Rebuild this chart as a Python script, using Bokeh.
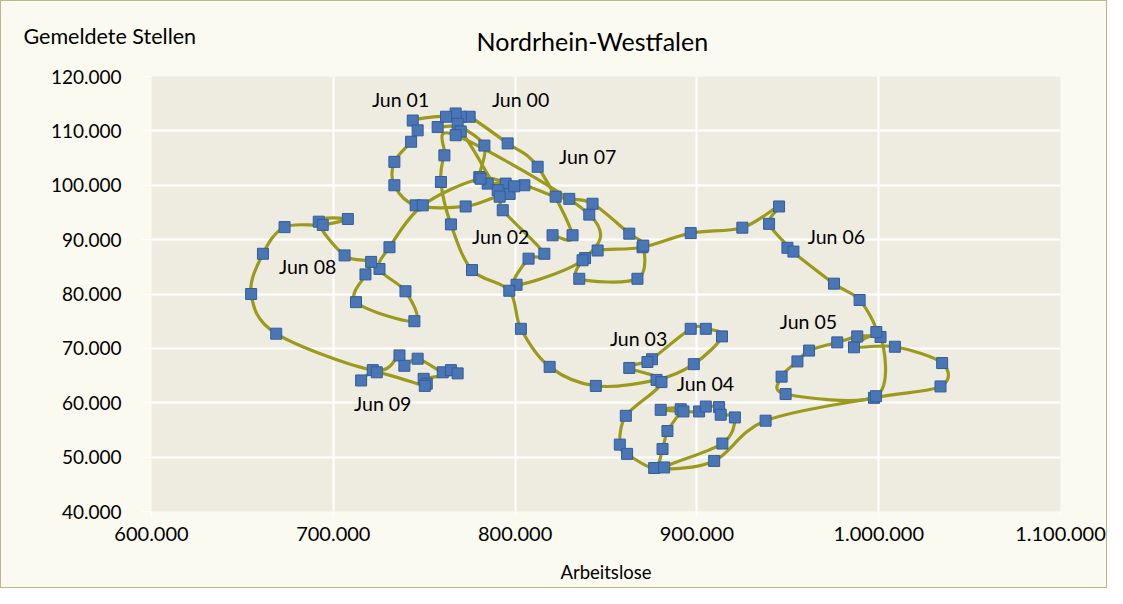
from bokeh.plotting import figure
from bokeh.models import Title, FixedTicker, ColumnDataSource
from bokeh.embed import file_html
from bokeh.resources import INLINE
from bokeh.core.properties import value
import numpy as np

# Arbeitslose (x) and gemeldete Stellen (y), monthly, chronological
arbeitslose = [
    820600, 831600, 812400, 795900, 775000, 770100, 767300, 768400, 783100, 780300, 784900, 794800,
    797000, 790400, 770100, 757400, 762000, 743700, 746400, 742800, 733600, 733600, 745300, 772800,
    791500, 793200, 816100, 807400, 800800, 838500, 840800, 767300, 761100, 759200, 764700, 776300, 796800, 803200, 819000,
    844400, 877800, 898300, 913800, 904900, 896600, 875300, 872800, 862800, 880500, 860900, 857600, 861600,
    876500, 881100, 883800, 891100, 880100, 892600, 901200, 904900, 912200, 913100, 920900, 914000, 882000, 909500, 937800,
    997400, 1034000, 1034900, 1008900, 986400, 1001000, 998500, 948800, 946600, 955300, 961700, 977200, 988200, 998700, 989500, 975400,
    949800, 953100, 939700, 945200, 925000, 896600, 870100, 845400, 837100, 835300, 867300,
    870500, 862800, 842600, 829800, 822300, 805100, 799500, 781000, 749200,
    730900, 725400, 739700, 744600, 712500, 717700, 720800, 706200, 692000, 708000, 694200, 673200, 661300, 654800, 668600,
    721700, 736400, 739100, 746400, 760200, 764700, 768400, 749700, 751400, 750300, 723900, 715300,
]
stellen = [
    90800, 90800, 103400, 107700, 112600, 112600, 113200, 111300, 107300, 101500, 100300, 100300,
    98400, 99100, 109900, 110700, 112600, 111900, 110100, 108000, 104300, 100000, 96300, 96100,
    97900, 95400, 87400, 86500, 81700, 86600, 94600, 109200, 105500, 100600, 92800, 84400, 80600, 73600, 66600,
    63100, 64200, 67100, 72200, 73600, 73600, 68000, 67500, 66400, 63800, 57600, 52300, 50600,
    48000, 51500, 54800, 58800, 58700, 58400, 58400, 59300, 59200, 57800, 57300, 52500, 48100, 49300, 56700,
    60900, 63000, 67300, 70300, 70200, 72100, 61200, 61600, 64800, 67600, 69600, 71100, 72200, 73000, 78900, 81900,
    88500, 87800, 92900, 96100, 92200, 91200, 88600, 88000, 86200, 82800, 82800,
    88900, 91100, 96600, 97500, 97900, 100000, 99800, 101200, 96300,
    88600, 84600, 80500, 75000, 78500, 83600, 85900, 87100, 93300, 93800, 92700, 92300, 87400, 80000, 72700,
    66000, 68700, 66800, 68100, 65600, 66000, 65400, 64400, 63500, 63100, 65600, 64100,
]

label_texts = ["Jun 00", "Jun 01", "Jun 02", "Jun 03", "Jun 04", "Jun 05", "Jun 06", "Jun 07", "Jun 08", "Jun 09"]
label_x = [803000, 737000, 792100, 867900, 904700, 961300, 976700, 839900, 685900, 727200]
label_y = [115800, 115800, 90500, 71900, 63500, 74900, 90500, 105300, 85000, 59800]

x_ticks = [600000, 700000, 800000, 900000, 1000000, 1100000]
x_tick_labels = ["600.000", "700.000", "800.000", "900.000", "1.000.000", "1.100.000"]
y_ticks = [40000, 50000, 60000, 70000, 80000, 90000, 100000, 110000, 120000]
y_tick_labels = ["40.000", "50.000", "60.000", "70.000", "80.000", "90.000", "100.000", "110.000", "120.000"]

FONT = "Lato"
W, H = 1107, 588
FL, FB = 150, 510   # frame left / frame bottom inside the canvas

p = figure(width=W, height=H, x_range=(600000, 1100000), y_range=(40000, 120000),
           output_backend="svg", toolbar_location=None, title=None,
           min_border_left=FL, min_border_right=48, min_border_top=75, min_border_bottom=H - FB)
p.background_fill_color = "#EEECE1"
p.border_fill_color = "#FAFAF1"
p.outline_line_color = None
p.styles = {"border": "1px solid #BDB67E", "box-sizing": "border-box"}

for ax, ticks, labels in ((p.xaxis[0], x_ticks, x_tick_labels), (p.yaxis[0], y_ticks, y_tick_labels)):
    ax.ticker = FixedTicker(ticks=ticks)
    ax.major_label_overrides = {t: l for t, l in zip(ticks, labels)}
    ax.axis_line_color = None
    ax.minor_tick_line_color = None
    ax.major_tick_line_color = "#FFFFFF"
    ax.major_tick_in = 0
    ax.major_label_text_font = FONT
    ax.major_label_text_color = "#000000"

p.xaxis[0].major_label_text_font_size = "20px"
p.yaxis[0].major_label_text_font_size = "19px"
p.xaxis[0].major_tick_out = 5
p.xaxis[0].major_label_standoff = 10
p.yaxis[0].major_tick_out = 9
p.yaxis[0].major_label_standoff = 21
p.xaxis[0].axis_label = "Arbeitslose"
p.xaxis[0].axis_label_text_font = FONT
p.xaxis[0].axis_label_text_font_size = "18.5px"
p.xaxis[0].axis_label_text_font_style = "normal"
p.xaxis[0].axis_label_text_color = "#000000"
p.xaxis[0].axis_label_standoff = 17

p.grid.grid_line_color = "#FFFFFF"
p.grid.grid_line_width = 2
p.xgrid.ticker = FixedTicker(ticks=x_ticks)
p.ygrid.ticker = FixedTicker(ticks=y_ticks)

# smooth (Excel-like) connecting line as cubic Bezier segments
xs = np.array(arbeitslose, dtype=float)
ys = np.array(stellen, dtype=float)
n = len(xs)
ip = np.r_[0, np.arange(n - 1)]          # previous index
inx = np.r_[np.arange(1, n), n - 1]      # next index
x0, y0 = xs[:-1], ys[:-1]
x1, y1 = xs[1:], ys[1:]
cx0 = x0 + (xs[1:] - xs[ip[:-1]]) / 6.0
cy0 = y0 + (ys[1:] - ys[ip[:-1]]) / 6.0
cx1 = x1 - (xs[inx[1:]] - xs[:-1]) / 6.0
cy1 = y1 - (ys[inx[1:]] - ys[:-1]) / 6.0
p.bezier(x0=x0, y0=y0, x1=x1, y1=y1, cx0=cx0, cy0=cy0, cx1=cx1, cy1=cy1,
         line_color="#9C9A1C", line_width=3.2)

p.scatter(xs, ys, marker="square", size=11, fill_color="#4A76B6", line_color="#345C9A", line_width=1)

src = ColumnDataSource(dict(x=label_x, y=label_y, t=label_texts))
p.text(x="x", y="y", text="t", source=src, text_font=value(FONT), text_font_size="19.5px",
       text_align="center", text_baseline="middle", text_color="#000000")

# titles in the panel above the frame (first added sits nearest the frame)
p.add_layout(Title(text="Nordrhein-Westfalen", align="left", offset=475 - FL, standoff=42,
                   text_font=FONT, text_font_size="25px", text_font_style="normal",
                   text_color="#000000"), "above")
p.add_layout(Title(text="Gemeldete Stellen", align="left", offset=22 - FL, standoff=-92,
                   text_font=FONT, text_font_size="21.5px", text_font_style="normal",
                   text_color="#000000"), "above")

open("out.html", "w").write(file_html(p, INLINE))
